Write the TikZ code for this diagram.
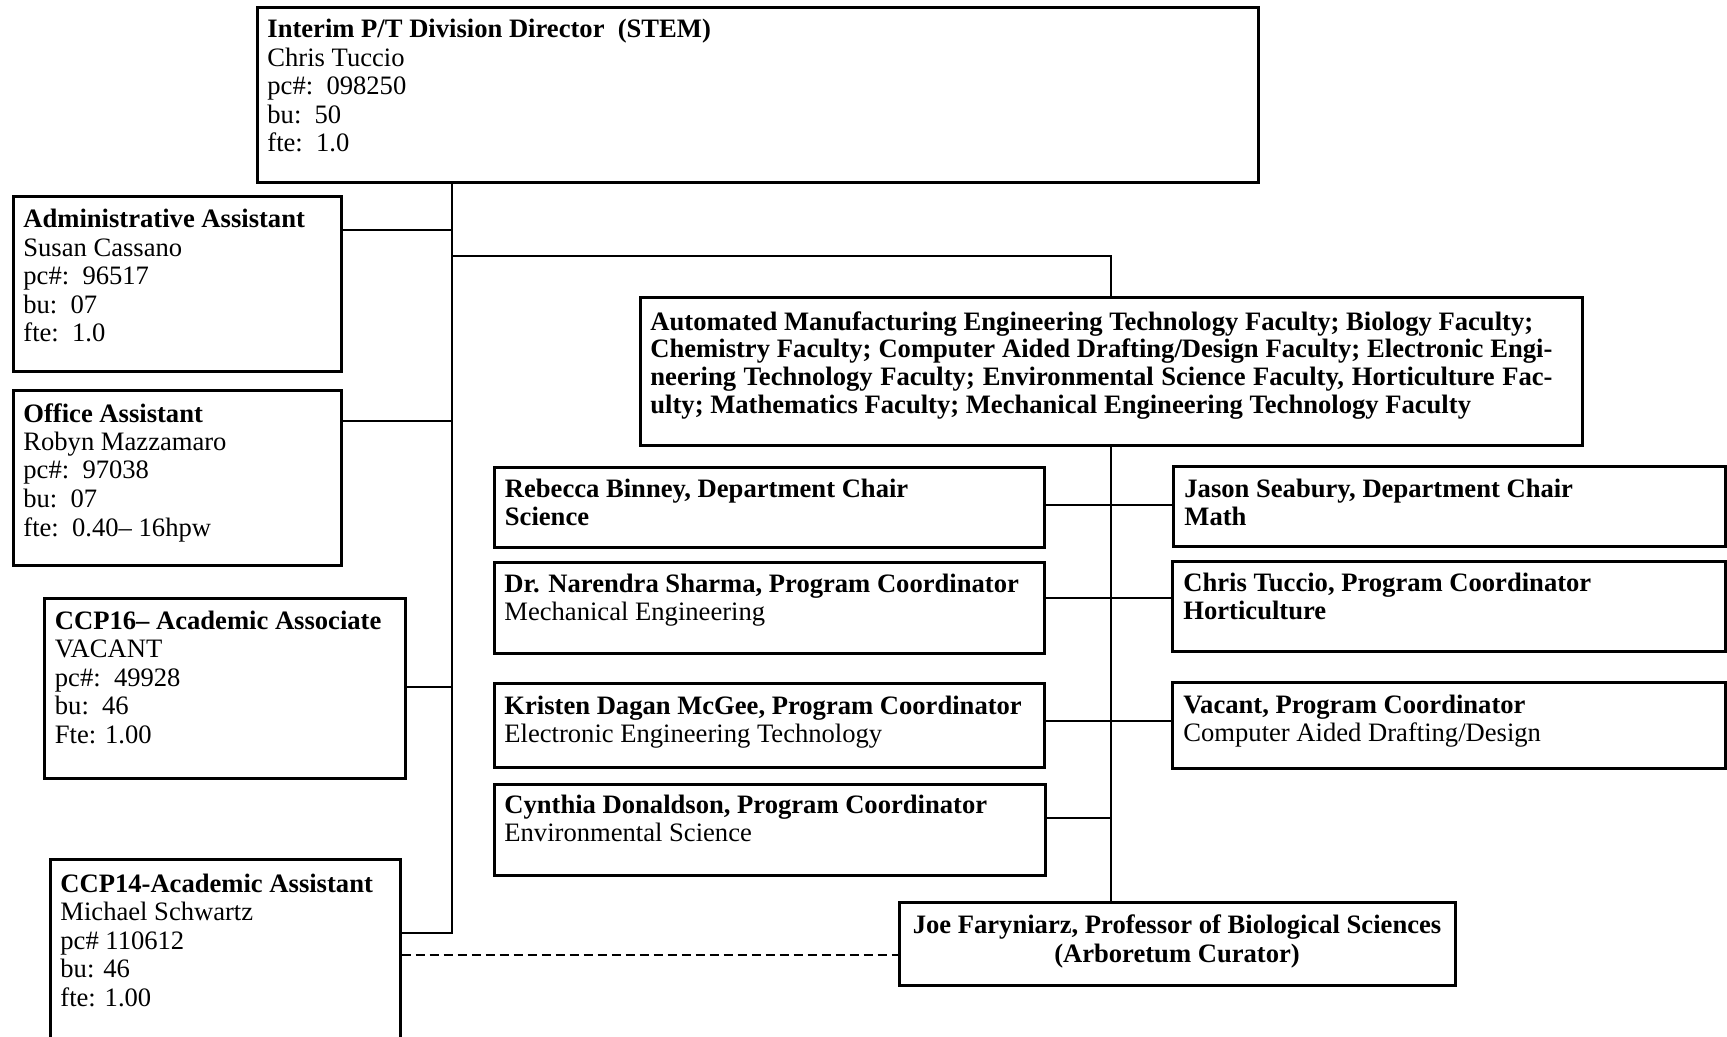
\documentclass[tikz,border=0pt]{standalone}
\usepackage{fontspec}
\setmainfont{Liberation Serif}
\usetikzlibrary{fit}
\newcommand\fsA{\fontsize{13.3}{14.25}\selectfont}
\newcommand\fsB{\fontsize{13.3}{14}\selectfont}
\newcommand\fsC{\fontsize{13.3}{13.85}\selectfont}
\newcommand\fsD{\fontsize{13.3}{14.5}\selectfont}
\newcommand\linesL[1]{\begin{tabular}[t]{@{}l@{}}#1\end{tabular}}
\newcommand\linesC[1]{\begin{tabular}[t]{@{}c@{}}#1\end{tabular}}
\tikzset{
  box/.style={draw, line width=1.5pt, inner sep=0pt},
  conn/.style={line width=0.75pt},
  dconn/.style={line width=0.75pt, dash pattern=on 4.5pt off 2.5pt},
  txt/.style={anchor=base west, inner sep=0pt, font=\fsA},
  txtr/.style={anchor=base west, inner sep=0pt, font=\fsB},
}
\begin{document}
\begin{tikzpicture}[x=0.5pt, y=-0.5pt]
\useasboundingbox (0,0) rectangle (1727,1037);
\clip (0,0) rectangle (1727,1037);
% boxes
\node[box, fit={(257,8)(1258,183)}] (top) {};
\node[box, fit={(13,197)(341,371)}] (admin) {};
\node[box, fit={(13,390)(341,565)}] (office) {};
\node[box, fit={(44,598)(405,778)}] (ccp16) {};
\node[box, fit={(50,859)(400,1060)}] (ccp14) {};
\node[box, fit={(640,298)(1582,445)}] (fac) {};
\node[box, fit={(494,467)(1044,547)}] (reb) {};
\node[box, fit={(1173,466)(1725,546)}] (jas) {};
\node[box, fit={(494,562)(1044,653)}] (nar) {};
\node[box, fit={(1172,561)(1725,651)}] (chr) {};
\node[box, fit={(494,683)(1044,767)}] (kri) {};
\node[box, fit={(1172,682)(1725,768)}] (vac) {};
\node[box, fit={(494,784)(1045,875)}] (cyn) {};
\node[box, fit={(899,902)(1455,985)}] (joe) {};
% texts
\node[txt] (toptxt) at (267,38) {\linesL{\textbf{Interim P/T Division Director\ \ (STEM)}\\Chris Tuccio\\pc\#:\ \ 098250\\bu:\ \ 50\\fte:\ \ 1.0}};
\node[txt] (admintxt) at (23,228) {\linesL{\textbf{Administrative Assistant}\\Susan Cassano\\pc\#:\ \ 96517\\bu:\ \ 07\\fte:\ \ 1.0}};
\node[txt] (officetxt) at (23,422) {\linesL{\textbf{Office Assistant}\\Robyn Mazzamaro\\pc\#:\ \ 97038\\bu:\ \ 07\\fte:\ \ 0.40– 16hpw}};
\node[txt] (ccp16txt) at (54.5,629) {\linesL{\textbf{CCP16– Academic Associate}\\VACANT\\pc\#:\ \ 49928\\bu:\ \ 46\\Fte: 1.00}};
\node[txt] (ccp14txt) at (60,892) {\linesL{\textbf{CCP14-Academic Assistant}\\Michael Schwartz\\pc\# 110612\\bu: 46\\fte: 1.00}};
\node[txt, font=\fsC\bfseries] (factxt) at (650,330) {\linesL{Automated Manufacturing Engineering Technology Faculty; Biology Faculty;\\
\makebox[451pt][s]{Chemistry Faculty; Computer Aided Drafting/Design Faculty; Electronic Engi-}\\
\makebox[451pt][s]{neering Technology Faculty; Environmental Science Faculty, Horticulture Fac-}\\
ulty; Mathematics Faculty; Mechanical Engineering Technology Faculty}};
\node[txtr, font=\fsB\bfseries] (rebtxt) at (504.5,497) {\linesL{Rebecca Binney, Department Chair\\Science}};
\node[txtr, font=\fsB\bfseries] (jastxt) at (1184,497) {\linesL{Jason Seabury, Department Chair\\Math}};
\node[txtr] (nartxt) at (504,592) {\linesL{\textbf{Dr. Narendra Sharma, Program Coordinator}\\Mechanical Engineering}};
\node[txtr, font=\fsB\bfseries] (chrtxt) at (1183,591) {\linesL{Chris Tuccio, Program Coordinator\\Horticulture}};
\node[txtr] (kritxt) at (504,714) {\linesL{\textbf{Kristen Dagan McGee, Program Coordinator}\\Electronic Engineering Technology}};
\node[txtr] (vactxt) at (1183,713) {\linesL{\textbf{Vacant, Program Coordinator}\\Computer Aided Drafting/Design}};
\node[txtr] (cyntxt) at (504,813) {\linesL{\textbf{Cynthia Donaldson, Program Coordinator}\\Environmental Science}};
\node[anchor=base, inner sep=0pt, font=\fsD\bfseries] (joetxt) at (1177,933) {\linesC{Joe Faryniarz, Professor of Biological Sciences\\(Arboretum Curator)}};
% junction coordinates
\coordinate (tb) at (452,933);
\coordinate (ja) at (452,230);
\coordinate (jf) at (452,256);
\coordinate (jo) at (452,421);
\coordinate (jc) at (452,687);
\coordinate (y1) at (0,505);
\coordinate (y2) at (0,598);
\coordinate (y3) at (0,721);
\coordinate (y4) at (0,818);
\coordinate (dd) at (0,955);
% connectors
\draw[conn] (top.south -| tb) -- (tb) -- (ccp14.east |- tb);
\draw[conn] (admin.east |- ja) -- (ja);
\draw[conn] (office.east |- jo) -- (jo);
\draw[conn] (ccp16.east |- jc) -- (jc);
\draw[conn] (jf) -- (jf -| fac.north) -- (fac.north);
\draw[conn] (fac.south) -- (fac.south |- joe.north);
\draw[conn] (reb.east |- y1) -- (jas.west |- y1);
\draw[conn] (nar.east |- y2) -- (chr.west |- y2);
\draw[conn] (kri.east |- y3) -- (vac.west |- y3);
\draw[conn] (cyn.east |- y4) -- (fac.south |- y4);
\draw[dconn] (ccp14.east |- dd) -- (joe.west |- dd);
\end{tikzpicture}
\end{document}
